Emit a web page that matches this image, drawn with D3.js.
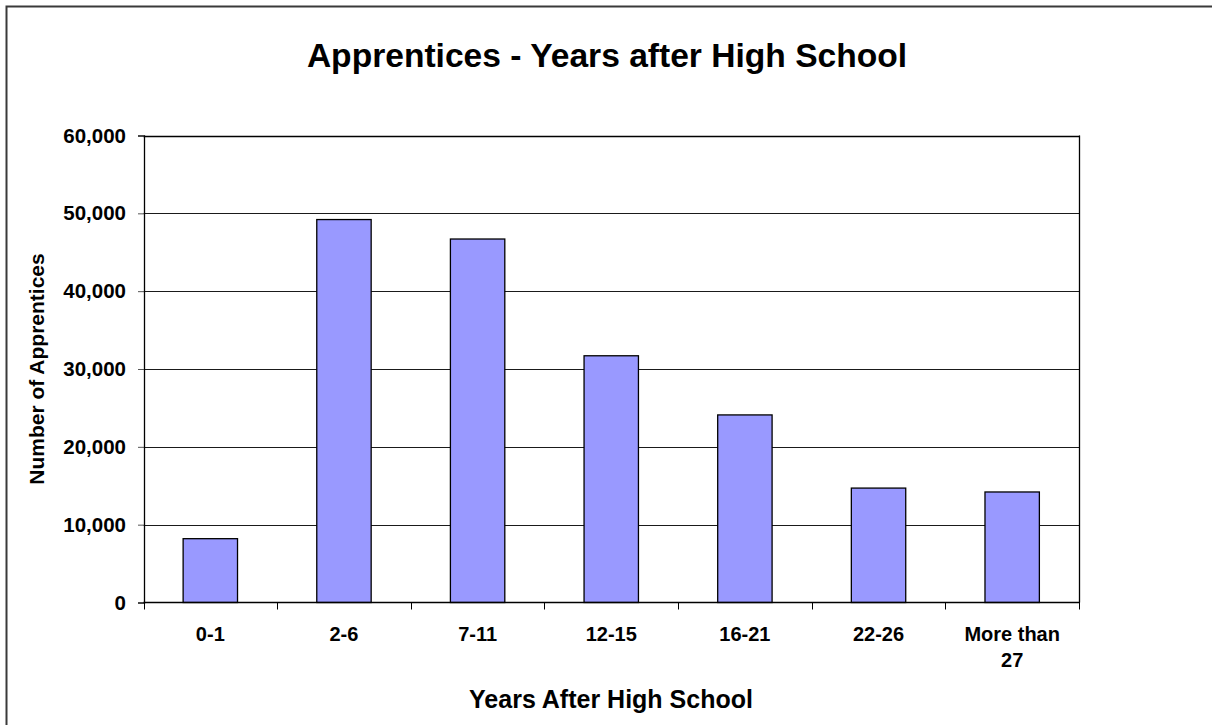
<!DOCTYPE html>
<html>
<head>
<meta charset="utf-8">
<script src="https://cdn.jsdelivr.net/npm/d3@7"></script>
<style>
  html, body { margin: 0; padding: 0; background: #fff; overflow: hidden; }
  text { font-family: "Liberation Sans", Arial, sans-serif; font-weight: bold; fill: #000; }
</style>
</head>
<body>
<svg id="chart" width="1212" height="725"></svg>
<script>
const categories = ["0-1", "2-6", "7-11", "12-15", "16-21", "22-26", "More than 27"];
const categoryLines = [["0-1"], ["2-6"], ["7-11"], ["12-15"], ["16-21"], ["22-26"], ["More than", "27"]];
const apprentices = [8200, 49200, 46700, 31700, 24100, 14700, 14200];
const yTicks = [0, 10000, 20000, 30000, 40000, 50000, 60000];
const chartTitle = "Apprentices - Years after High School";
const xTitle = "Years After High School";
const yTitle = "Number of Apprentices";

const svg = d3.select("#chart");
const W = 1212, H = 725;
const plot = { left: 143.5, right: 1079, top: 135.5, bottom: 602.5 };

// outer frame
svg.append("rect")
  .attr("x", 6.5).attr("y", 6.5)
  .attr("width", W + 20).attr("height", H + 20)
  .attr("fill", "#fff").attr("stroke", "#3a3a3a").attr("stroke-width", 2);

const x = d3.scaleBand()
  .domain(categories)
  .range([plot.left, plot.right])
  .paddingInner(0.593)
  .paddingOuter(0.2965);

const y = d3.scaleLinear()
  .domain([0, 60000])
  .range([plot.bottom, plot.top]);

// gridlines
svg.append("g")
  .selectAll("line")
  .data(yTicks.filter(d => d > 0))
  .join("line")
  .attr("x1", plot.left).attr("x2", plot.right)
  .attr("y1", d => Math.round(y(d)) + 0.5).attr("y2", d => Math.round(y(d)) + 0.5)
  .attr("stroke", "#1a1a1a").attr("stroke-width", 1);

// plot area border (right and top)
svg.append("line")
  .attr("x1", plot.right + 0.5).attr("x2", plot.right + 0.5)
  .attr("y1", plot.top).attr("y2", plot.bottom)
  .attr("stroke", "#000").attr("stroke-width", 1.3);
svg.append("line")
  .attr("x1", plot.left).attr("x2", plot.right + 1)
  .attr("y1", Math.round(y(60000)) + 0.5).attr("y2", Math.round(y(60000)) + 0.5)
  .attr("stroke", "#000").attr("stroke-width", 1.3);

// bars
svg.append("g")
  .selectAll("rect")
  .data(apprentices)
  .join("rect")
  .attr("x", (d, i) => x(categories[i]))
  .attr("y", d => y(d))
  .attr("width", x.bandwidth())
  .attr("height", d => y(0) - y(d))
  .attr("fill", "#9999FF")
  .attr("stroke", "#000")
  .attr("stroke-width", 1.3);

// y axis
const yAxis = d3.axisLeft(y)
  .tickValues(yTicks)
  .tickSize(6)
  .tickPadding(12)
  .tickFormat(d3.format(","));
const gy = svg.append("g")
  .attr("transform", `translate(${plot.left + 0.5},0)`)
  .call(yAxis);
gy.select(".domain").attr("stroke", "#000").attr("stroke-width", 1.3);
gy.selectAll(".tick line").attr("stroke", "#555");
gy.selectAll(".tick text")
  .attr("font-family", "'Liberation Sans', Arial, sans-serif")
  .attr("font-weight", "bold")
  .attr("font-size", 20.5)
  .attr("fill", "#000");

// x axis line + category boundary ticks
const xEdges = categories.map((c, i) => plot.left + i * x.step()).concat([plot.right]);
svg.append("line")
  .attr("x1", plot.left).attr("x2", plot.right + 1)
  .attr("y1", y(0)).attr("y2", y(0))
  .attr("stroke", "#000").attr("stroke-width", 1.3);
svg.append("g")
  .selectAll("line")
  .data(xEdges)
  .join("line")
  .attr("x1", d => Math.round(d) + 0.5).attr("x2", d => Math.round(d) + 0.5)
  .attr("y1", y(0)).attr("y2", y(0) + 7)
  .attr("stroke", "#000").attr("stroke-width", 1);

// x tick labels
svg.append("g")
  .selectAll("text")
  .data(categoryLines)
  .join("text")
  .attr("text-anchor", "middle")
  .attr("font-size", 20)
  .attr("x", (d, i) => x(categories[i]) + x.bandwidth() / 2)
  .attr("y", 641)
  .each(function(lines) {
    d3.select(this).selectAll("tspan")
      .data(lines)
      .join("tspan")
      .attr("x", d3.select(this).attr("x"))
      .attr("dy", (d, j) => j === 0 ? 0 : 26)
      .text(d => d);
  });

// titles
svg.append("text")
  .attr("x", 607).attr("y", 67)
  .attr("text-anchor", "middle")
  .attr("font-size", 33.6)
  .text(chartTitle);

svg.append("text")
  .attr("x", 611).attr("y", 708)
  .attr("text-anchor", "middle")
  .attr("font-size", 25)
  .text(xTitle);

svg.append("text")
  .attr("transform", `translate(43.5,369) rotate(-90)`)
  .attr("text-anchor", "middle")
  .attr("font-size", 21)
  .text(yTitle);
</script>
</body>
</html>
